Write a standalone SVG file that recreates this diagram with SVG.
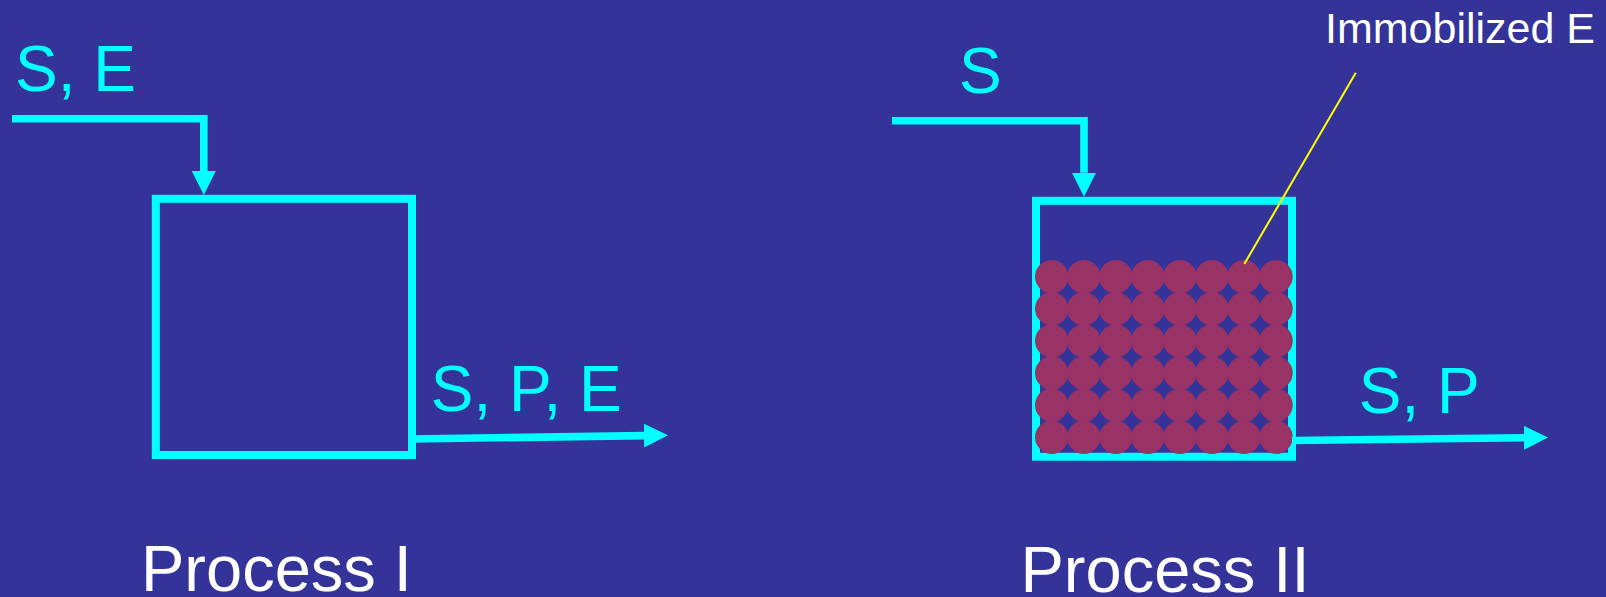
<svg xmlns="http://www.w3.org/2000/svg" width="1606" height="597" viewBox="0 0 1606 597">
<style>
.bg{fill:#333399}
.pipe{fill:none;stroke:#00FFFF;stroke-width:7.6;stroke-linejoin:miter}
.box{fill:none;stroke:#00FFFF;stroke-width:8}
.lbl{font-family:"Liberation Sans",Arial,sans-serif;font-size:64px;fill:#00FFFF}
.title{font-family:"Liberation Sans",Arial,sans-serif;font-size:65px;fill:#FFFFFF}
.note{font-family:"Liberation Sans",Arial,sans-serif;font-size:43px;fill:#FFFFFF}
.bead{fill:#993366}
.lead{stroke:#FFFF00;stroke-width:2;fill:none}
</style>
<defs>
<marker id="arrow" markerUnits="userSpaceOnUse" markerWidth="24" markerHeight="24" refX="0" refY="12" orient="auto" viewBox="0 0 24 24">
<path d="M0,0 L24,12 L0,24 Z" fill="#00FFFF"/>
</marker>
<circle id="b" r="16.7" class="bead"/>
</defs>
<rect class="bg" x="0" y="0" width="1606" height="597"/>

<g id="reactor1">
<rect class="box" x="155.8" y="198.8" width="256.2" height="256.2"/>
</g>

<g id="reactor2">
<rect class="box" x="1036" y="200.8" width="256" height="255.9"/>
<g id="beads">
<use href="#b" x="1051.7" y="276.7"/><use href="#b" x="1083.75" y="276.7"/><use href="#b" x="1115.8" y="276.7"/><use href="#b" x="1147.85" y="276.7"/><use href="#b" x="1179.9" y="276.7"/><use href="#b" x="1211.95" y="276.7"/><use href="#b" x="1244" y="276.7"/><use href="#b" x="1276.05" y="276.7"/>
<use href="#b" x="1051.7" y="308.8"/><use href="#b" x="1083.75" y="308.8"/><use href="#b" x="1115.8" y="308.8"/><use href="#b" x="1147.85" y="308.8"/><use href="#b" x="1179.9" y="308.8"/><use href="#b" x="1211.95" y="308.8"/><use href="#b" x="1244" y="308.8"/><use href="#b" x="1276.05" y="308.8"/>
<use href="#b" x="1051.7" y="340.9"/><use href="#b" x="1083.75" y="340.9"/><use href="#b" x="1115.8" y="340.9"/><use href="#b" x="1147.85" y="340.9"/><use href="#b" x="1179.9" y="340.9"/><use href="#b" x="1211.95" y="340.9"/><use href="#b" x="1244" y="340.9"/><use href="#b" x="1276.05" y="340.9"/>
<use href="#b" x="1051.7" y="373"/><use href="#b" x="1083.75" y="373"/><use href="#b" x="1115.8" y="373"/><use href="#b" x="1147.85" y="373"/><use href="#b" x="1179.9" y="373"/><use href="#b" x="1211.95" y="373"/><use href="#b" x="1244" y="373"/><use href="#b" x="1276.05" y="373"/>
<use href="#b" x="1051.7" y="405.1"/><use href="#b" x="1083.75" y="405.1"/><use href="#b" x="1115.8" y="405.1"/><use href="#b" x="1147.85" y="405.1"/><use href="#b" x="1179.9" y="405.1"/><use href="#b" x="1211.95" y="405.1"/><use href="#b" x="1244" y="405.1"/><use href="#b" x="1276.05" y="405.1"/>
<use href="#b" x="1051.7" y="437.2"/><use href="#b" x="1083.75" y="437.2"/><use href="#b" x="1115.8" y="437.2"/><use href="#b" x="1147.85" y="437.2"/><use href="#b" x="1179.9" y="437.2"/><use href="#b" x="1211.95" y="437.2"/><use href="#b" x="1244" y="437.2"/><use href="#b" x="1276.05" y="437.2"/>
</g>
</g>

<g id="connectors">
<polyline class="pipe" points="12,118.8 203.8,118.8 203.8,171" marker-end="url(#arrow)"/>
<line class="pipe" x1="412" y1="439" x2="644" y2="435.6" marker-end="url(#arrow)"/>
<polyline class="pipe" points="892,120.8 1084,120.8 1084,172.7" marker-end="url(#arrow)"/>
<line class="pipe" x1="1292" y1="440.5" x2="1524" y2="437.8" marker-end="url(#arrow)"/>
<line class="lead" x1="1355.8" y1="72.7" x2="1244.3" y2="264"/>
</g>

<g id="labels">
<text class="lbl" x="15" y="90.7">S, E</text>
<text class="lbl" x="430.7" y="411">S, P, E</text>
<text class="lbl" x="959" y="93.3">S</text>
<text class="lbl" x="1358.7" y="412.7">S, P</text>
<text class="note" x="1325" y="43.3">Immobilized E</text>
<text class="title" x="141" y="591">Process I</text>
<text class="title" x="1020.5" y="592">Process II</text>
</g>
</svg>
